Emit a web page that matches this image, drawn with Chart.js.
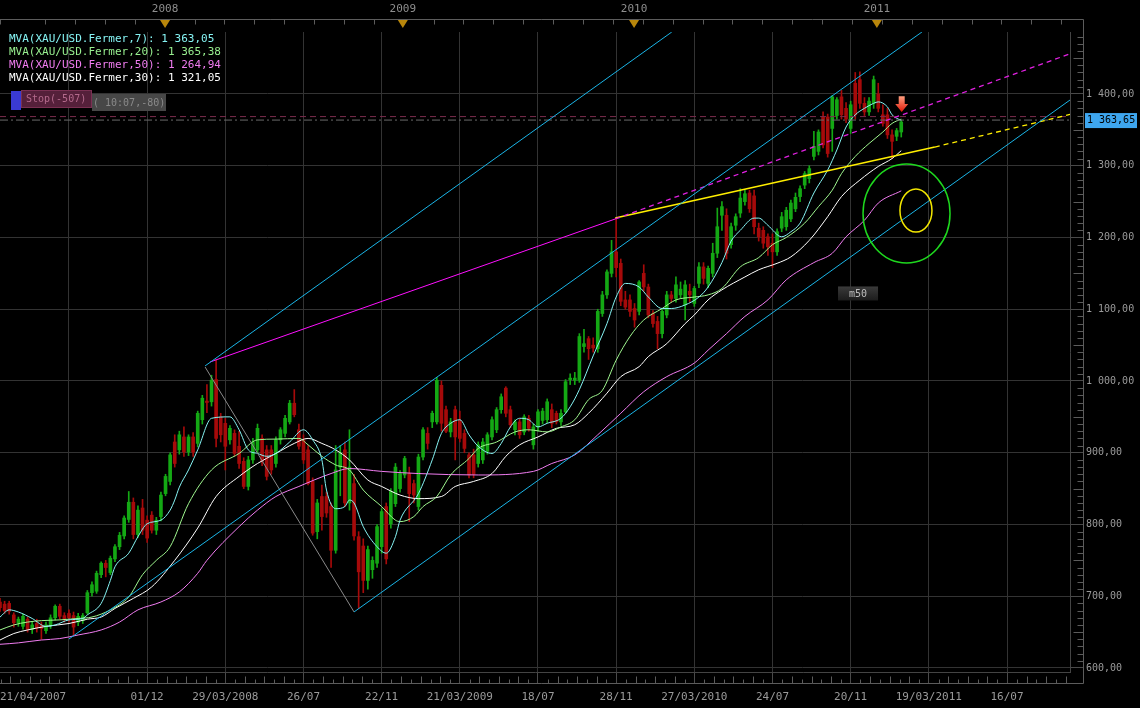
<!DOCTYPE html>
<html>
<head>
<meta charset="utf-8">
<style>
  html, body { margin: 0; padding: 0; background: #000; }
  #wrap { width: 1140px; height: 708px; }
</style>
<script src="https://cdn.jsdelivr.net/npm/chart.js@4/dist/chart.umd.min.js"></script>
</head>
<body>
<div id="wrap"><canvas id="chart" width="1140" height="708"></canvas></div>
<script>
// weekly XAU/USD candles, index 0 = week of 21/04/2007
const opens = [
  692,689,690,674,663,658,668,654,662,660, 652,659,670,686,673,676,673,664,666,677,
  705,707,730,746,733,752,769,784,807,831, 786,823,806,813,792,811,843,860,915,904,
  922,901,922,913,946,972,971,1002,950,941, 918,927,909,888,853,890,904,920,904,904,
  885,918,927,943,969,932,918,904,860,790, 839,839,825,764,880,904,830,857,783,770,
  722,737,746,769,825,801,829,850,869,871, 857,825,894,927,943,943,994,960,929,960,
  945,927,897,897,885,890,902,922,932,960, 990,960,932,943,929,948,911,936,945,946,
  960,955,943,957,1002,1001,1001,1048,1059,1050, 1045,1094,1120,1150,1180,1164,1113,1113,1101,1097,
  1150,1131,1094,1083,1066,1092,1120,1115,1120,1106, 1125,1108,1136,1159,1136,1150,1178,1231,1231,1190,
  1217,1234,1250,1262,1258,1213,1210,1201,1192,1180, 1213,1215,1226,1240,1257,1273,1282,1313,1320,1368,
  1368,1352,1370,1396,1380,1352,1415,1420,1387,1375, 1387,1400,1371,1371,1343,1341,1347
];
const highs = [
  697,693,693,677,671,675,671,664,668,664, 664,674,688,689,677,681,678,676,676,708,
  720,735,748,750,756,772,789,812,846,837, 826,835,812,818,810,845,870,900,925,930,
  936,925,928,958,980,995,1008,1030,955,948, 938,932,930,893,895,920,940,925,910,910,
  922,935,952,973,988,940,925,910,865,835, 855,845,830,910,910,915,932,870,790,780,
  770,755,800,822,830,850,885,875,895,880, 862,898,935,935,958,1005,1000,965,948,965,
  958,932,900,905,915,920,928,950,963,982, 992,965,946,947,953,952,940,960,962,975,
  968,958,960,1002,1010,1012,1066,1072,1062,1060, 1100,1125,1155,1196,1227,1170,1125,1120,1108,1140,
  1162,1135,1098,1090,1100,1125,1125,1145,1138,1140, 1135,1132,1165,1165,1160,1192,1241,1250,1240,1220,
  1233,1268,1266,1266,1266,1220,1215,1205,1205,1212, 1235,1242,1252,1262,1272,1292,1300,1348,1350,1375,
  1372,1398,1395,1405,1388,1390,1430,1431,1395,1395, 1425,1415,1385,1380,1350,1352,1364
];
const lows = [
  679,676,675,657,658,654,650,648,650,640, 648,655,667,668,664,664,645,659,662,675,
  700,704,726,727,730,748,765,780,803,780, 782,786,775,788,786,805,840,855,880,898,
  895,896,895,908,940,956,965,908,915,876, 912,895,878,850,848,885,900,882,862,870,
  880,912,922,940,950,905,885,855,785,780, 792,810,740,760,840,825,820,778,683,705,
  710,725,740,760,745,795,825,845,865,804, 830,820,890,905,935,940,930,928,922,890,
  915,900,865,865,880,885,898,918,928,955, 950,935,925,920,925,930,905,930,940,942,
  935,940,938,955,995,995,998,1040,1030,1040, 1040,1090,1115,1145,1145,1105,1100,1090,1075,1092,
  1125,1088,1075,1045,1060,1088,1110,1110,1115,1085, 1110,1104,1130,1135,1130,1145,1172,1210,1170,1185,
  1210,1228,1245,1235,1205,1195,1185,1175,1158,1175, 1208,1210,1222,1236,1250,1268,1276,1308,1315,1325,
  1312,1320,1365,1365,1360,1345,1365,1380,1370,1370, 1380,1375,1355,1338,1310,1335,1340
];
const closes = [
  684,680,679,663,668,672,654,660,656,655, 660,670,686,672,668,670,657,672,673,705,
  716,732,746,740,753,769,785,809,831,786, 820,792,781,792,806,841,867,897,885,925,
  901,922,901,955,976,970,1001,920,925,909, 934,899,885,853,890,915,934,888,867,876,
  918,932,948,969,953,909,890,857,788,830, 811,816,764,876,900,830,880,784,734,722,
  765,750,797,818,752,846,880,871,892,843, 841,894,932,913,955,1001,941,930,943,922,
  920,906,869,870,911,915,925,946,960,978, 955,939,943,925,950,934,936,957,958,971,
  941,943,955,999,1004,1004,1062,1052,1045,1046, 1097,1120,1152,1180,1158,1111,1103,1097,1085,1138,
  1131,1092,1080,1066,1097,1120,1115,1134,1128,1134, 1120,1129,1159,1143,1157,1178,1215,1243,1178,1215,
  1229,1255,1261,1240,1215,1201,1192,1187,1180,1208, 1229,1238,1248,1256,1268,1289,1296,1327,1347,1329,
  1317,1396,1392,1371,1365,1385,1371,1387,1375,1390, 1420,1380,1359,1343,1334,1349,1361
];

// moving averages (week index, value)
const ma7Weeks = [0,2,4,7,10,12,15,18,19,22, 24,25,28,30,32,35,37,38,39,41, 43,46,50,52,54,56,58,60,63,66,
  68,70,71,73,75,76,77,79,82,84, 86,87,91,94,96,98,100,102,104,107, 109,111,113,115,117,119,122,124,126,129,
  132,134,136,139,141,144,146,149,152,154, 157,159,161,164,165,167,170,172,174,177, 180,182,184,186,188,190,191,193,194,196];
const ma7Values = [671,681,678,669,658,660,667,669,674,690, 722,741,760,783,801,806,820,834,852,876, 904,948,950,932,904,899,895,899,915,932,
  918,890,848,822,825,834,830,797,769,760, 783,806,843,890,927,941,946,925,909,899, 913,936,948,946,936,941,948,964,988,1035,
  1080,1117,1136,1131,1117,1101,1101,1106,1117,1131, 1165,1195,1210,1227,1227,1217,1201,1208,1220,1262, 1294,1322,1354,1371,1380,1387,1389,1382,1371,1363];

const ma20Weeks = [0,3,6,9,13,17,20,24,28,31, 34,37,41,46,52,56,60,65,67,70, 73,76,79,83,86,87,90,92,95,98,
  102,104,108,112,115,119,122,125,128,131, 134,137,140,144,147,151,154,157,161,165, 168,171,175,178,181,183,186,189,192,194, 196];
const ma20Values = [653,660,664,666,667,669,671,681,699,730, 750,769,829,876,899,918,919,920,911,895, 883,876,848,825,806,804,811,825,839,869,
  892,906,915,929,932,929,936,946,974,987, 1029,1062,1085,1101,1113,1117,1120,1129,1159,1172, 1190,1200,1220,1243,1266,1289,1313,1331,1347,1359, 1365];

const ma30Weeks = [0,3,6,10,15,19,22,25,29,33, 38,43,47,52,56,60,64,67,70,73, 76,80,83,87,91,96,99,103,107,110,
  113,117,121,125,128,132,135,139,141,145, 149,151,154,157,162,165,169,172,176,180, 183,187,191,194,196];
const ma30Values = [639,648,653,658,662,668,671,683,697,713, 750,795,839,867,885,899,913,920,913,904, 890,862,853,841,836,839,853,860,871,895,
  911,922,934,939,955,983,1006,1020,1034,1052, 1080,1092,1113,1127,1145,1155,1164,1173,1196,1229, 1257,1280,1299,1310,1321];

const ma50Weeks = [0,4,9,13,17,22,26,30,35,39, 43,45,52,56,60,65,72,76,83,91, 104,116,120,125,130,135,140,145,151,154,
  158,162,167,171,177,181,184,188,191,196];
const ma50Values = [633,635,639,641,646,653,664,681,692,706, 732,750,797,820,839,853,871,878,874,871, 869,874,885,897,925,955,985,1006,1025,1043,
  1066,1090,1113,1141,1165,1178,1201,1224,1248,1265];

// drawn trend lines, [week, price] pairs
const channelTop = [[44.6, 1021], [146.1, 1486.4]];
const channelMid = [[15.0, 640.4], [200.5, 1486.4]];
const channelLow = [[77.0, 678.1], [232.7, 1391.6]];
const grayLeg = [[44.6, 1019.5], [77.0, 678.1]];
const magentaLine = [[45.7, 1026.5], [133.8, 1225.8]];
const magentaExt = [[133.8, 1225.8], [232.7, 1456]];
const yellowLine = [[133.8, 1227.2], [203.3, 1326.1]];
const yellowExt = [[203.3, 1326.1], [232.7, 1371.5]];
const stopLevel = 1368.5;
const lastPrice = 1363.65;

const xTickWeeks = [7.2, 15, 32, 49, 66, 83, 100, 117, 134, 151, 168, 185, 202, 219];
const xTickLabels = ['21/04/2007', '', '01/12', '29/03/2008', '26/07', '22/11', '21/03/2009', '18/07',
  '28/11', '27/03/2010', '24/07', '20/11', '19/03/2011', '16/07'];
const yearWeeks = [35.9, 87.6, 137.9, 190.7];
const yearLabels = ['2008', '2009', '2010', '2011'];
const priceTicks = [600, 700, 800, 900, 1000, 1100, 1200, 1300, 1400];

const legendLines = [
  ['MVA(XAU/USD.Fermer,7): 1 363,05', '#86f4f4'],
  ['MVA(XAU/USD.Fermer,20): 1 365,38', '#98f090'],
  ['MVA(XAU/USD.Fermer,50): 1 264,94', '#f07cf0'],
  ['MVA(XAU/USD.Fermer,30): 1 321,05', '#ffffff']
];

const arrowMark = { week: 196.1, top: 1397, tip: 1375 };
const rings = [
  { week: 197.15, price: 1233.4, rw: 9.46, rp: 69, color: '#1ed81e' },
  { week: 199.2, price: 1237.6, rw: 3.48, rp: 30, color: '#f2e600' }
];
const m50Tag = { week: 186.6, price: 1122 };

const UP = '#14a814';
const DOWN = '#a60a0a';
const FONT = '"DejaVu Sans Mono", monospace';

function frNum(v) {
  const parts = v.toFixed(2).split('.');
  return parts[0].replace(/\B(?=(\d{3})+(?!\d))/g, ' ') + ',' + parts[1];
}

function pts(pairs) {
  return pairs.map(p => ({ x: p[0], y: p[1] }));
}

function series(weeks, values) {
  return weeks.map((w, k) => ({ x: w, y: values[k] }));
}

function candleColor(i) {
  return closes[i] >= opens[i] ? UP : DOWN;
}

function lineSet(data, color, extra) {
  return Object.assign({
    type: 'line',
    data,
    borderColor: color,
    borderWidth: 1,
    pointRadius: 0,
    fill: false,
    order: 2
  }, extra || {});
}

const overlay = {
  id: 'overlay',
  afterDraw(chart) {
    const { ctx, scales: { x, y } } = chart;
    const px = w => x.getPixelForValue(w);
    const py = v => y.getPixelForValue(v);
    const right = 1083.5;
    const base = 683.5;

    ctx.save();
    ctx.lineWidth = 1;
    ctx.strokeStyle = '#5c5c5c';

    // frame: top time line, right price line, bottom baseline
    ctx.beginPath();
    ctx.moveTo(0, 19.5); ctx.lineTo(right, 19.5);
    ctx.moveTo(right, 19.5); ctx.lineTo(right, base);
    ctx.moveTo(0, base); ctx.lineTo(right, base);
    ctx.stroke();

    // top ticks
    ctx.beginPath();
    for (let w = 9.8; w < x.max; w += 6.5) {
      const p = Math.round(px(w)) + 0.5;
      ctx.moveTo(p, 19.5); ctx.lineTo(p, 24.5);
    }
    ctx.moveTo(0.5, 19.5); ctx.lineTo(0.5, 24.5);
    ctx.stroke();

    // bottom minor ticks
    ctx.beginPath();
    for (let k = 0; ; k++) {
      const w = -2 + k * 2.125;
      if (w > x.max) break;
      if (k % 8 === 0 || w < 0) continue;
      const p = Math.round(px(w)) + 0.5;
      const len = k % 2 ? 4 : 7;
      ctx.moveTo(p, base); ctx.lineTo(p, base - len);
    }
    ctx.stroke();

    // right minor ticks
    ctx.beginPath();
    for (let v = 600; v <= 1480; v += 10) {
      if (v % 100 === 0) continue;
      const q = Math.round(py(v)) + 0.5;
      const len = v % 50 === 0 ? 10 : 6;
      ctx.moveTo(right - len, q); ctx.lineTo(right, q);
    }
    ctx.stroke();

    // year markers
    ctx.font = '11px ' + FONT;
    ctx.textAlign = 'center';
    ctx.textBaseline = 'middle';
    yearWeeks.forEach((w, k) => {
      const p = px(w);
      ctx.fillStyle = '#8e8e8e';
      ctx.fillText(yearLabels[k], p, 9);
      ctx.fillStyle = '#b8860b';
      ctx.beginPath();
      ctx.moveTo(p - 5, 20); ctx.lineTo(p + 5, 20); ctx.lineTo(p, 28);
      ctx.closePath();
      ctx.fill();
    });

    // indicator legend
    ctx.textAlign = 'left';
    ctx.font = '11px ' + FONT;
    legendLines.forEach((row, k) => {
      ctx.fillStyle = row[1];
      ctx.fillText(row[0], 9, 39 + k * 13);
    });

    // stop order tag
    ctx.font = '10px ' + FONT;
    ctx.fillStyle = '#474747';
    ctx.fillRect(92, 94, 74, 17);
    ctx.fillStyle = '#8a8a8a';
    ctx.fillText('( 10:07,-80)', 93, 103);
    ctx.fillStyle = '#3a3ad2';
    ctx.fillRect(11, 91, 10, 19);
    ctx.fillStyle = '#55203a';
    ctx.fillRect(21, 90, 71, 18);
    ctx.strokeStyle = '#7a3052';
    ctx.strokeRect(21.5, 90.5, 70, 17);
    ctx.fillStyle = '#b46a8c';
    ctx.fillText('Stop(-507)', 26, 99);

    // last price tag on the axis
    const ly = py(lastPrice);
    ctx.fillStyle = '#3ea6ef';
    ctx.fillRect(1085, ly - 7, 52, 15);
    ctx.fillStyle = '#000';
    ctx.fillText(frNum(lastPrice), 1087, ly + 0.5);

    // rings
    rings.forEach(r => {
      const cx = px(r.week);
      const cy = py(r.price);
      ctx.strokeStyle = r.color;
      ctx.lineWidth = 1.5;
      ctx.beginPath();
      ctx.ellipse(cx, cy, Math.abs(px(r.week + r.rw) - cx), Math.abs(py(r.price + r.rp) - cy), 0, 0, Math.PI * 2);
      ctx.stroke();
    });

    // sell arrow
    const ax = px(arrowMark.week);
    const at = py(arrowMark.top);
    const ab = py(arrowMark.tip);
    const mid = at + (ab - at) * 0.5;
    const grad = ctx.createLinearGradient(0, at, 0, ab);
    grad.addColorStop(0, '#ffa080');
    grad.addColorStop(1, '#e01808');
    ctx.fillStyle = grad;
    ctx.beginPath();
    ctx.moveTo(ax - 3, at); ctx.lineTo(ax + 3, at); ctx.lineTo(ax + 3, mid);
    ctx.lineTo(ax + 6.5, mid); ctx.lineTo(ax, ab); ctx.lineTo(ax - 6.5, mid);
    ctx.lineTo(ax - 3, mid);
    ctx.closePath();
    ctx.fill();

    // m50 tag
    const mx = px(m50Tag.week);
    const my = py(m50Tag.price);
    const tg = ctx.createLinearGradient(0, my - 7, 0, my + 7);
    tg.addColorStop(0, '#3a3a3a');
    tg.addColorStop(1, '#1c1c1c');
    ctx.fillStyle = tg;
    ctx.fillRect(mx - 20, my - 7, 40, 14);
    ctx.fillStyle = '#bdbdbd';
    ctx.textAlign = 'center';
    ctx.fillText('m50', mx, my + 0.5);

    ctx.restore();
  }
};

new Chart(document.getElementById('chart'), {
  type: 'bar',
  data: {
    datasets: [
      lineSet(pts(channelTop), '#1ab4e6', { order: 1 }),
      lineSet(pts(channelMid), '#1ab4e6', { order: 1 }),
      lineSet(pts(channelLow), '#1ab4e6', { order: 1 }),
      lineSet(pts(grayLeg), '#8a8a8a', { order: 1 }),
      lineSet(pts(magentaLine), '#ff10ff', { order: 1 }),
      lineSet(pts(magentaExt), '#e020e0', { order: 1, borderDash: [5, 4], borderWidth: 1.3 }),
      lineSet(pts(yellowLine), '#ffee00', { order: 1, borderWidth: 1.6 }),
      lineSet(pts(yellowExt), '#ffee00', { order: 1, borderDash: [5, 4], borderWidth: 1.3 }),
      lineSet([{ x: 0, y: stopLevel }, { x: 232.7, y: stopLevel }], '#7a2c4c', { order: 1, borderDash: [6, 4] }),
      lineSet([{ x: 0, y: lastPrice }, { x: 232.7, y: lastPrice }], '#6a6a6a', { order: 1, borderDash: [8, 3, 2, 3] }),
      lineSet(series(ma7Weeks, ma7Values), '#86f4f4', { cubicInterpolationMode: 'monotone' }),
      lineSet(series(ma20Weeks, ma20Values), '#a0f890', { cubicInterpolationMode: 'monotone' }),
      lineSet(series(ma30Weeks, ma30Values), '#ffffff', { cubicInterpolationMode: 'monotone' }),
      lineSet(series(ma50Weeks, ma50Values), '#f07cf0', { cubicInterpolationMode: 'monotone' }),
      {
        type: 'bar',
        data: opens.map((o, i) => ({ x: i, y: [o, closes[i]] })),
        backgroundColor: ctx => candleColor(ctx.dataIndex),
        barThickness: 3,
        minBarLength: 1,
        grouped: false,
        order: 5
      },
      {
        type: 'bar',
        data: opens.map((o, i) => ({ x: i, y: [lows[i], highs[i]] })),
        backgroundColor: ctx => candleColor(ctx.dataIndex),
        barThickness: 1,
        grouped: false,
        order: 6
      }
    ]
  },
  options: {
    responsive: false,
    animation: false,
    devicePixelRatio: 1,
    layout: { padding: { top: 32, left: 0, right: 0, bottom: 0 } },
    plugins: {
      legend: { display: false },
      tooltip: { enabled: false }
    },
    scales: {
      x: {
        type: 'linear',
        min: 0,
        max: 232.7,
        offset: false,
        afterBuildTicks: scale => { scale.ticks = xTickWeeks.map(value => ({ value })); },
        afterFit: scale => { scale.height = 36; scale.paddingLeft = 0; scale.paddingRight = 0; },
        grid: {
          offset: false,
          color: ctx => ctx.index === 0 ? 'rgba(0,0,0,0)' : '#333333',
          tickColor: ctx => ctx.index === 0 ? 'rgba(0,0,0,0)' : '#4a4a4a',
          tickLength: 11
        },
        border: { display: true, color: '#444444' },
        ticks: {
          autoSkip: false,
          maxRotation: 0,
          padding: 8,
          color: '#9a9a9a',
          font: { family: FONT, size: 11 },
          callback: (value, index) => xTickLabels[index]
        }
      },
      y: {
        type: 'linear',
        position: 'right',
        min: 594.4,
        max: 1486.4,
        afterBuildTicks: scale => { scale.ticks = priceTicks.map(value => ({ value })); },
        afterFit: scale => { scale.width = 70; },
        grid: { color: '#333333', tickColor: '#4a4a4a', tickLength: 13 },
        border: { display: true, color: '#444444' },
        ticks: {
          padding: 3,
          color: '#9a9a9a',
          font: { family: FONT, size: 10 },
          callback: value => frNum(value)
        }
      }
    }
  },
  plugins: [overlay]
});
</script>
</body>
</html>
